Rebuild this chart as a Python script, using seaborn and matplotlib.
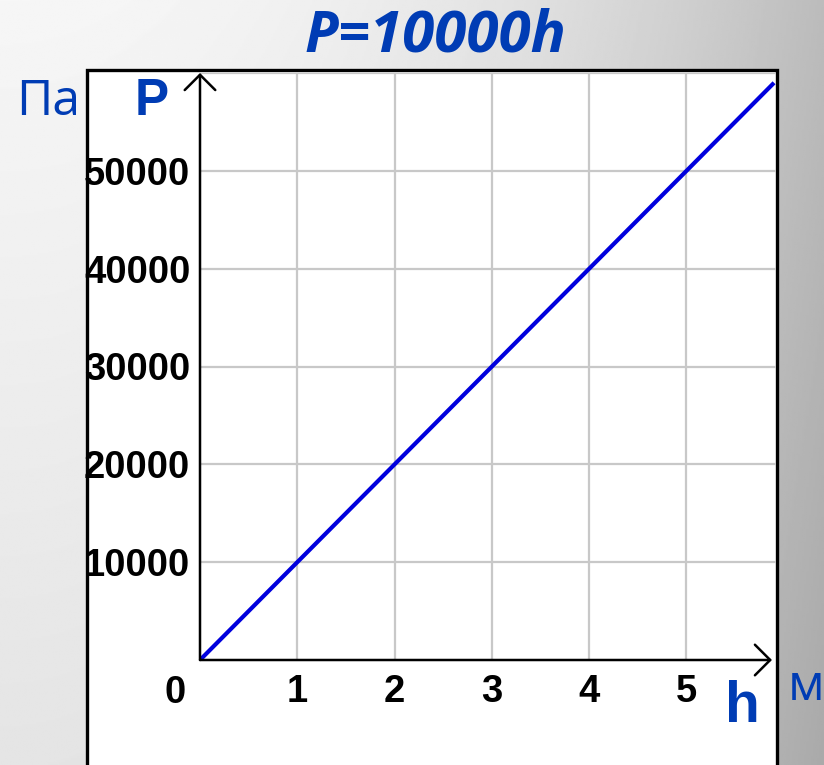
import numpy as np
import matplotlib
matplotlib.use("Agg")
import matplotlib.pyplot as plt
from matplotlib.patches import Rectangle
import seaborn as sns

# Pressure in a liquid column versus depth
h_values = [0, 1, 2, 3, 4, 5, 5.9]
p_values = [0, 10000, 20000, 30000, 40000, 50000, 59000]
x_ticks = [1, 2, 3, 4, 5]
x_tick_labels = ["1", "2", "3", "4", "5"]
y_ticks = [10000, 20000, 30000, 40000, 50000, 60000]
y_tick_labels = ["10000", "20000", "30000", "40000", "50000", ""]

title_text = "P=10000h"
y_unit = "Па"
y_name = "P"
x_name = "h"
x_unit = "м"

sns.set_theme(style="white")
plt.rcParams["font.family"] = ["Liberation Sans", "DejaVu Sans"]

W, H, DPI = 824, 765, 100
fig = plt.figure(figsize=(W / DPI, H / DPI), dpi=DPI)


def fx(px):
    return px / W


def fy(py):
    return 1 - py / H


# Gray slide-like background
bg = fig.add_axes([0, 0, 1, 1], zorder=-10)
bg.set_axis_off()
gx, gy = np.meshgrid(np.linspace(0, 1, 400), np.linspace(0, 1, 400))
shade = 0.965 - 0.07 * gy - 0.23 * gx ** 2.2
bg.imshow(shade, cmap="gray", vmin=0, vmax=1, extent=[0, 1, 0, 1],
          origin="upper", aspect="auto")
bg.add_patch(Rectangle((fx(87), fy(775)), fx(777) - fx(87), fy(70) - fy(775),
                       facecolor="white", edgecolor="black", lw=2.4,
                       transform=bg.transAxes))
bg.set_xlim(0, 1)
bg.set_ylim(0, 1)

# Plot area
ax = fig.add_axes([fx(200), fy(660), fx(776) - fx(200), fy(73) - fy(660)])
ax.set_facecolor("none")
ax.set_xlim(0, 5.92)
ax.set_ylim(0, 60000)
for s in ax.spines.values():
    s.set_visible(False)

ax.set_axisbelow(True)
ax.set_xticks(x_ticks, labels=x_tick_labels)
ax.set_yticks(y_ticks, labels=y_tick_labels)
ax.grid(True, color="#c8c8c8", lw=1.6)
ax.tick_params(axis="both", length=0, labelsize=27.5, labelcolor="black")
ax.tick_params(axis="x", pad=10)
ax.tick_params(axis="y", pad=7)
for lab in ax.get_xticklabels() + ax.get_yticklabels():
    lab.set_fontweight("bold")

sns.lineplot(x=h_values, y=p_values, ax=ax, color="#0000dd", lw=3.0,
             solid_capstyle="butt", legend=False)
ax.set_xlabel("")
ax.set_ylabel("")

# Axis arrows
arrow = dict(arrowstyle="->,head_length=0.55,head_width=0.55", lw=1.8,
             color="black", shrinkA=0, shrinkB=0, mutation_scale=20)
ax.annotate("", xy=(0.993, 0), xytext=(0, 0), xycoords="axes fraction",
            arrowprops=arrow, annotation_clip=False)
ax.annotate("", xy=(0, 1.0), xytext=(0, 0), xycoords="axes fraction",
            arrowprops=arrow, annotation_clip=False)

blue = "#003cb4"
fig.text(fx(175), fy(703), "0", ha="center", va="baseline",
         fontsize=27.5, fontweight="bold", color="black")
fig.text(fx(435), fy(52), title_text, ha="center", va="baseline",
         fontsize=42, fontweight="bold", fontstyle="italic", color=blue,
         family=["Open Sans", "DejaVu Sans"])
fig.text(fx(16), fy(115), y_unit, ha="left", va="baseline", fontsize=36,
         color=blue, family=["Open Sans", "DejaVu Sans"])
fig.text(fx(135), fy(115), y_name, ha="left", va="baseline", fontsize=37,
         fontweight="bold", color=blue)
fig.text(fx(725), fy(722), x_name, ha="left", va="baseline", fontsize=41,
         fontweight="bold", color=blue)
fig.text(fx(788), fy(700), x_unit, ha="left", va="baseline", fontsize=36,
         color=blue, family=["Open Sans", "DejaVu Sans"])

fig.savefig("out.png", dpi=DPI)
